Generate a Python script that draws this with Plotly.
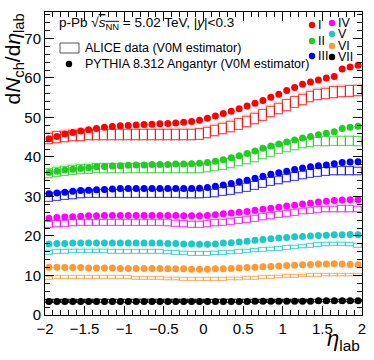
import plotly.graph_objects as go

# bin centres in eta_lab
eta = [round(-1.95 + 0.1 * i, 2) for i in range(40)]

classes = ["I", "II", "III", "IV", "V", "VI", "VII"]
colors = ["#ff0000", "#22cc22", "#0000ff", "#ff00ff", "#1cc8c8", "#ff9933", "#000000"]

# PYTHIA 8.312 Angantyr (dots)
pythia = {
    "I": [44.6, 45.2, 45.8, 46.2, 46.6, 46.9, 47.2, 47.5, 47.7, 47.9,
          48.0, 48.1, 48.2, 48.3, 48.4, 48.5, 48.6, 48.8, 49.0, 49.3,
          49.8, 50.4, 51.0, 51.6, 52.2, 52.9, 53.6, 54.3, 55.1, 55.9,
          56.8, 57.6, 58.4, 59.0, 59.5, 60.0, 60.4, 62.3, 62.8, 63.2],
    "II": [36.1, 36.4, 36.7, 36.9, 37.1, 37.3, 37.5, 37.6, 37.7, 37.8,
           37.9, 38.0, 38.0, 38.1, 38.1, 38.1, 38.2, 38.2, 38.3, 38.4,
           38.6, 38.9, 39.3, 39.8, 40.3, 40.9, 41.5, 42.2, 42.8, 43.3,
           43.8, 44.3, 44.8, 45.2, 45.6, 46.0, 46.4, 47.2, 47.5, 47.8],
    "III": [30.7, 30.9, 31.1, 31.3, 31.5, 31.6, 31.7, 31.8, 31.9, 32.0,
            32.0, 32.0, 32.0, 32.0, 32.0, 32.0, 32.0, 32.0, 32.0, 32.1,
            32.3, 32.6, 32.9, 33.3, 33.7, 34.1, 34.6, 35.1, 35.6, 36.0,
            36.4, 36.8, 37.2, 37.5, 37.8, 38.0, 38.3, 38.6, 38.7, 38.8],
    "IV": [24.5, 24.7, 24.8, 24.9, 25.0, 25.1, 25.1, 25.2, 25.2, 25.2,
           25.2, 25.2, 25.2, 25.2, 25.2, 25.2, 25.2, 25.1, 25.1, 25.1,
           25.2, 25.4, 25.6, 25.8, 26.0, 26.2, 26.5, 26.8, 27.0, 27.3,
           27.6, 27.8, 28.1, 28.3, 28.6, 28.8, 29.0, 29.1, 29.2, 29.2],
    "V": [18.0, 18.1, 18.1, 18.2, 18.2, 18.2, 18.2, 18.2, 18.2, 18.2,
          18.2, 18.2, 18.2, 18.2, 18.2, 18.1, 18.1, 18.0, 18.0, 17.9,
          17.9, 18.0, 18.2, 18.3, 18.5, 18.7, 18.9, 19.1, 19.3, 19.5,
          19.6, 19.8, 19.9, 20.0, 20.1, 20.2, 20.3, 20.3, 20.4, 20.3],
    "VI": [12.1, 12.1, 12.0, 12.0, 12.0, 11.9, 11.9, 11.9, 11.9, 11.8,
           11.8, 11.8, 11.8, 11.8, 11.8, 11.7, 11.7, 11.7, 11.6, 11.6,
           11.6, 11.7, 11.7, 11.8, 11.9, 12.0, 12.1, 12.2, 12.3, 12.4,
           12.5, 12.6, 12.7, 12.8, 12.9, 12.9, 13.0, 12.9, 12.8, 12.7],
    "VII": [3.4, 3.4, 3.4, 3.4, 3.4, 3.4, 3.4, 3.4, 3.4, 3.4,
            3.4, 3.4, 3.4, 3.4, 3.4, 3.4, 3.4, 3.4, 3.4, 3.4,
            3.4, 3.4, 3.4, 3.4, 3.4, 3.4, 3.5, 3.5, 3.5, 3.5,
            3.5, 3.5, 3.5, 3.5, 3.6, 3.6, 3.6, 3.6, 3.6, 3.6],
}

# ALICE data (boxes)
alice = {
    "I": [44.6, 44.9, 45.1, 45.3, 45.4, 45.5, 45.5, 45.5, 45.5, 45.5,
          45.5, 45.5, 45.5, 45.5, 45.5, 45.5, 45.5, 45.5, 45.6, 45.7,
          46.0, 46.5, 47.0, 47.6, 48.2, 48.9, 49.7, 50.5, 51.4, 52.2,
          53.0, 53.8, 54.5, 55.1, 55.6, 56.0, 56.3, 56.5, 56.6, 56.7],
    "II": [35.8, 36.1, 36.4, 36.6, 36.8, 36.9, 37.0, 37.0, 37.0, 37.0,
           37.0, 37.0, 37.0, 37.0, 37.0, 37.0, 37.0, 37.0, 37.0, 37.0,
           37.2, 37.5, 37.9, 38.3, 38.7, 39.2, 39.8, 40.5, 41.2, 41.9,
           42.4, 42.9, 43.3, 43.6, 43.8, 43.9, 44.0, 44.0, 44.0, 43.9],
    "III": [29.6, 29.9, 30.1, 30.3, 30.5, 30.6, 30.6, 30.6, 30.6, 30.6,
            30.6, 30.6, 30.6, 30.6, 30.6, 30.6, 30.6, 30.5, 30.5, 30.5,
            30.6, 30.8, 31.1, 31.4, 31.8, 32.2, 32.7, 33.2, 33.7, 34.1,
            34.5, 34.9, 35.3, 35.7, 36.0, 36.2, 36.3, 36.4, 36.4, 36.3],
    "IV": [22.9, 23.0, 23.1, 23.2, 23.3, 23.3, 23.3, 23.3, 23.3, 23.3,
           23.3, 23.3, 23.3, 23.3, 23.3, 23.2, 23.1, 23.0, 22.9, 22.9,
           23.0, 23.2, 23.4, 23.6, 23.8, 24.1, 24.4, 24.7, 25.0, 25.3,
           25.6, 25.9, 26.2, 26.4, 26.6, 26.7, 26.7, 26.8, 26.8, 26.7],
    "V": [15.7, 15.9, 16.0, 16.1, 16.1, 16.1, 16.1, 16.1, 16.0, 16.0,
          16.0, 16.0, 16.0, 16.0, 15.9, 15.8, 15.7, 15.6, 15.5, 15.5,
          15.5, 15.6, 15.7, 15.8, 16.0, 16.1, 16.3, 16.4, 16.6, 16.7,
          16.9, 17.1, 17.3, 17.5, 17.7, 17.8, 17.9, 17.9, 17.8, 17.4],
    "VI": [9.3, 9.4, 9.4, 9.4, 9.4, 9.4, 9.4, 9.4, 9.4, 9.4,
           9.4, 9.3, 9.3, 9.2, 9.2, 9.1, 9.1, 9.0, 9.0, 9.0,
           9.0, 9.0, 9.0, 9.1, 9.1, 9.2, 9.3, 9.4, 9.5, 9.6,
           9.7, 9.8, 9.9, 10.0, 10.0, 10.1, 10.1, 10.1, 10.1, 10.1],
    "VII": [3.4, 3.4, 3.4, 3.4, 3.4, 3.4, 3.4, 3.4, 3.4, 3.4,
            3.4, 3.4, 3.4, 3.4, 3.4, 3.4, 3.4, 3.4, 3.4, 3.4,
            3.4, 3.4, 3.4, 3.4, 3.4, 3.4, 3.4, 3.4, 3.4, 3.5,
            3.5, 3.5, 3.5, 3.5, 3.5, 3.5, 3.5, 3.5, 3.5, 3.5],
}

# systematic half-height of the ALICE boxes per class
alice_sys = [1.3, 1.1, 0.95, 0.75, 0.45, 0.35, 0.3]


def rgba(hex_color, a):
    h = hex_color.lstrip("#")
    r, g, b = int(h[0:2], 16), int(h[2:4], 16), int(h[4:6], 16)
    return f"rgba({r},{g},{b},{a})"


FONT = "Liberation Sans, Arial, Helvetica, sans-serif"

fig = go.Figure()

# boxes first
for cls, col, sys in zip(classes, colors, alice_sys):
    vals = alice[cls]
    fig.add_trace(go.Bar(
        x=eta, y=[2 * sys * 1.15] * len(vals), base=[v - sys * 1.15 for v in vals],
        width=0.1, marker=dict(color="rgba(0,0,0,0)", line=dict(color=rgba(col, 0.25), width=1.5)),
        showlegend=False, hoverinfo="skip",
    ))
    fig.add_trace(go.Bar(
        x=eta, y=[2 * sys] * len(vals), base=[v - sys for v in vals],
        width=0.1, marker=dict(color="rgba(0,0,0,0)", line=dict(color=rgba(col, 0.6), width=1)),
        showlegend=False, name=f"ALICE {cls}",
    ))

for cls, col in zip(classes, colors):
    fig.add_trace(go.Scatter(
        x=eta, y=pythia[cls], mode="markers",
        marker=dict(color=col, size=7, line=dict(width=0)),
        showlegend=False, name=f"PYTHIA {cls}",
    ))

axis_common = dict(
    showline=True, linecolor="black", linewidth=1, mirror="allticks",
    ticks="inside", ticklen=9, tickcolor="black", tickwidth=1,
    showgrid=False, zeroline=False, automargin=False,
    tickfont=dict(family=FONT, size=15, color="black"),
)
fig.update_xaxes(range=[-2, 2], dtick=0.5, tick0=-2,
                 minor=dict(dtick=0.1, ticks="inside", ticklen=5, tickcolor="black"),
                 **axis_common)
fig.update_yaxes(range=[0, 76.7], dtick=10, tick0=0,
                 minor=dict(dtick=2, ticks="inside", ticklen=5, tickcolor="black"),
                 **axis_common)

# pixel -> paper helpers (plot area 45..362 x 12..315)
def px(x):
    return (x - 45) / 317


def py(y):
    return (315 - y) / 303


ann = []
ann.append(dict(text="d<i>N</i><sub>ch</sub>/d<i>η</i><sub>lab</sub>", textangle=-90,
                x=px(13), y=1.0, xanchor="center", yanchor="top",
                font=dict(family=FONT, size=21, color="black")))
ann.append(dict(text="<i>η</i><sub>lab</sub>", x=1.0, y=py(356), xanchor="right", yanchor="bottom",
                font=dict(family=FONT, size=22, color="black")))
ann.append(dict(text="p-Pb √<span style='text-decoration:overline'><i>s</i><sub>NN</sub></span> = 5.02 TeV, |<i>y</i>|&lt;0.3",
                x=px(57), y=py(23), xanchor="left", yanchor="middle",
                font=dict(family=FONT, size=13.5, color="black")))
ann.append(dict(text="ALICE data (V0M estimator)", x=px(83), y=py(48), xanchor="left", yanchor="middle",
                font=dict(family=FONT, size=12.5, color="black")))
ann.append(dict(text="PYTHIA 8.312 Angantyr (V0M estimator)", x=px(83), y=py(64), xanchor="left",
                yanchor="middle", font=dict(family=FONT, size=12.5, color="black")))

shapes = [dict(type="rect", xref="paper", yref="paper", x0=px(60), x1=px(79), y0=py(53), y1=py(43),
               line=dict(color="#555555", width=1))]


def dot(xp, yp, col, r=3.2):
    return dict(type="circle", xref="paper", yref="paper", xsizemode="pixel", ysizemode="pixel",
                xanchor=px(xp), yanchor=py(yp), x0=-r, x1=r, y0=-r, y1=r,
                fillcolor=col, line=dict(width=0))


shapes.append(dot(69, 64, "black"))

# class legend: two columns
leg_pos = [(312, 25), (312, 41), (312, 56), (332, 23), (332, 34), (332, 46), (332, 57)]
for cls, col, (lx, ly) in zip(classes, colors, leg_pos):
    shapes.append(dot(lx, ly, col))
    ann.append(dict(text=cls, x=px(lx + 4), y=py(ly), xanchor="left", yanchor="middle",
                    font=dict(family=FONT, size=12.5, color="black")))

for a in ann:
    a.update(xref="paper", yref="paper", showarrow=False)

fig.update_layout(
    width=374, height=360,
    margin=dict(l=45, r=12, t=12, b=45),
    paper_bgcolor="white", plot_bgcolor="white",
    barmode="overlay", bargap=0,
    annotations=ann, shapes=shapes,
    font=dict(family=FONT, color="black"),
)

# drop the default 8px page margin so the figure sits at the window corner
fig.write_html("out.html", config={"displayModeBar": False},
               post_script="document.body.style.margin='0';")
